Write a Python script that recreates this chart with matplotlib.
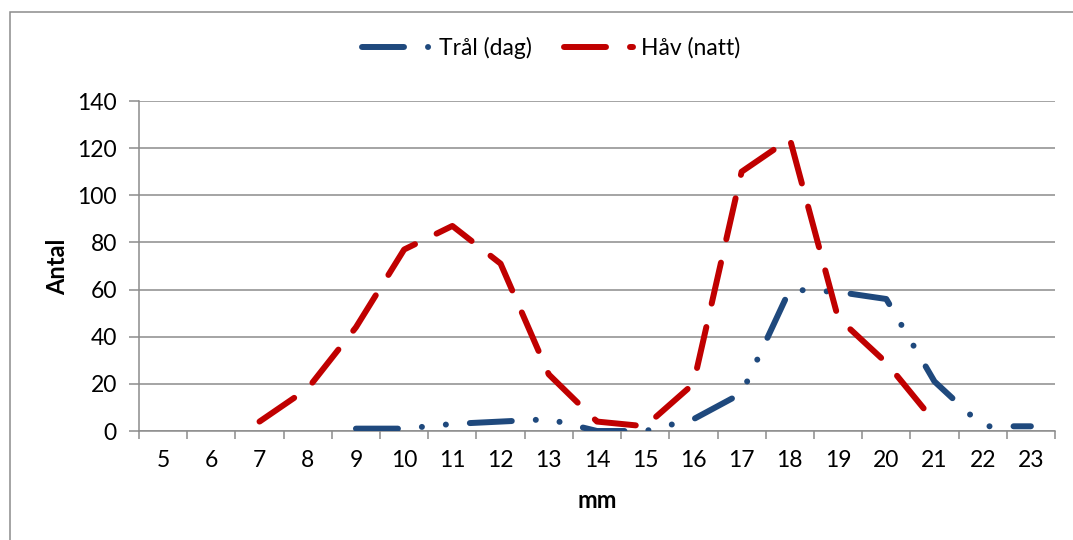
import numpy as np
import matplotlib
matplotlib.use("Agg")
import matplotlib.pyplot as plt
from matplotlib.patches import Rectangle

categories = [5, 6, 7, 8, 9, 10, 11, 12, 13, 14, 15, 16, 17, 18, 19, 20, 21, 22, 23]
tral_dag = [np.nan, np.nan, np.nan, np.nan, 1, 1, 3, 4, 5, 0, 0, 5, 16, 60, 59, 56, 21, 2, 2]
hav_natt = [np.nan, np.nan, 4, 18, 44, 77, 87, 71, 24, 4, 2, 20, 110, 124, 48, 29, 4, np.nan, np.nan]
y_ticks = [0, 20, 40, 60, 80, 100, 120, 140]

plt.rcParams['font.family'] = ['Lato', 'DejaVu Sans']
plt.rcParams['lines.scale_dashes'] = False

W, H = 1073, 540
fig = plt.figure(figsize=(W / 100, H / 100), dpi=100)
L, R, T, B = 139, 1055, 101, 431
ax = fig.add_axes([L / W, 1 - B / H, (R - L) / W, (B - T) / H])

grey = '#8C8C8C'
blue = '#1F497D'
red = '#C00000'

# chart-area border
fig.add_artist(Rectangle((10 / W, -0.2), 1.2, 1.2 - 12 / H,
                         transform=fig.transFigure, fill=False,
                         edgecolor=grey, linewidth=1.1, clip_on=False))

x = np.arange(len(categories))
lw = 4.3
u = 6 * 72 / 100  # Excel dash unit in points
long_dash = (0, (7 * u, 4 * u))
long_dash_dot_dot = (0, (7 * u, 4 * u, 0.05, 4 * u, 0.05, 4 * u))

ax.plot(x, tral_dag, color=blue, linewidth=lw, linestyle=long_dash_dot_dot,
        dash_capstyle='round', solid_capstyle='round', dash_joinstyle='round',
        label='Trål (dag)', zorder=3)
ax.plot(x, hav_natt, color=red, linewidth=lw, linestyle=long_dash,
        dash_capstyle='round', solid_capstyle='round', dash_joinstyle='round',
        label='Håv (natt)', zorder=3)

fs = 16.5
ax.set_xlim(-0.5, len(categories) - 0.5)
ax.set_ylim(0, 140)
ax.set_yticks(y_ticks)
ax.set_xticks(x)
ax.set_xticklabels([str(c) for c in categories])
ax.set_xticks(np.arange(-0.5, len(categories)), minor=True)
ax.tick_params(axis='x', which='major', length=0, labelsize=fs, pad=14)
ax.tick_params(axis='x', which='minor', length=6, width=1.1, color=grey, direction='out')
ax.tick_params(axis='y', length=7, width=1.1, color=grey, labelsize=fs, pad=9)

ax.grid(axis='y', color=grey, linewidth=1.1, zorder=0)
ax.set_axisbelow(True)
for s in ['top', 'right']:
    ax.spines[s].set_visible(False)
for s in ['left', 'bottom']:
    ax.spines[s].set_color(grey)
    ax.spines[s].set_linewidth(1.1)

fig.text(597 / W, 1 - 500 / H, 'mm', ha='center', va='center', fontsize=17, fontweight='bold')
fig.text(58 / W, 1 - 267 / H, 'Antal', ha='center', va='center', rotation=90,
         fontsize=17, fontweight='bold')

leg = fig.legend(loc='center', bbox_to_anchor=(551 / W, 1 - 48 / H), ncol=2,
                 frameon=False, fontsize=fs, handlelength=3.0, handletextpad=0.35,
                 columnspacing=1.4)

fig.savefig('out.png', dpi=100)
